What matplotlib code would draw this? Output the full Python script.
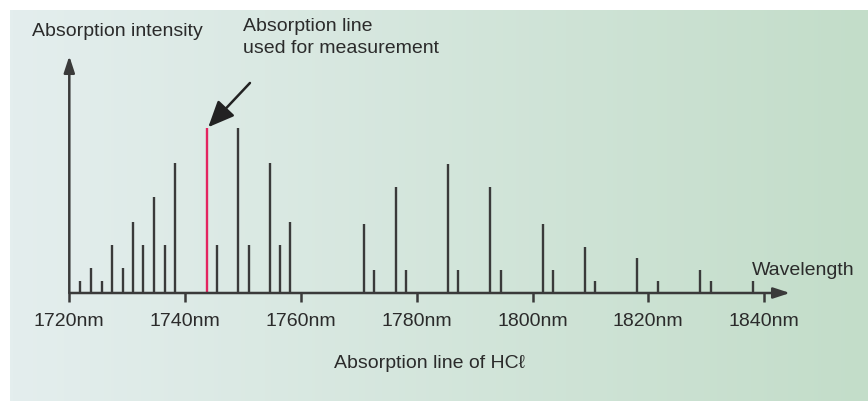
import numpy as np
import matplotlib
matplotlib.use("Agg")
import matplotlib.pyplot as plt
from matplotlib.colors import to_rgb

plt.rcParams['font.family'] = ['Liberation Sans', 'DejaVu Sans']

# HCl absorption lines (nm) and relative intensity
wavelengths = [1721.9, 1723.8, 1725.6, 1727.4, 1729.2, 1731.0, 1732.8, 1734.6,
               1736.5, 1738.3, 1745.5, 1749.2, 1751.0, 1754.6, 1756.4, 1758.2,
               1770.9, 1772.7, 1776.4, 1778.2, 1785.4, 1787.2, 1792.7, 1794.5,
               1801.8, 1803.5, 1809.0, 1810.8, 1818.1, 1821.7, 1828.9, 1830.8,
               1838.1]
intensity = [7, 15, 7, 29, 15, 43, 29, 58,
             29, 79, 29, 100, 29, 79, 29, 43,
             42, 14, 64, 14, 78, 14, 64, 14,
             42, 14, 28, 7, 21, 7, 14, 7,
             7]
# line used for measurement
meas_wl = 1743.7
meas_int = 100

tick_nm = [1720, 1740, 1760, 1780, 1800, 1820, 1840]
tick_labels = [f"{t}nm" for t in tick_nm]

W, H = 868, 401
INK = '#2b2b2b'
LINE = '#3a3a3a'
RED = '#e3245f'
FS = 14


def fx(px):
	return px / W


def fy(py):
	return 1 - py / H


fig = plt.figure(figsize=(W / 100, H / 100), dpi=100)
fig.patch.set_facecolor('white')

# background gradient panel
bg = fig.add_axes([fx(10), 0, 1 - fx(10), fy(10)])
c0, c1 = np.array(to_rgb('#e4eeee')), np.array(to_rgb('#c3ddc9'))
t = np.linspace(0, 1, 256)[None, :, None]
bg.imshow(c0 * (1 - t) + c1 * t, aspect='auto', extent=[0, 1, 0, 1])
bg.axis('off')

x_left, x_right = 69.3, 790
y_base, y_top = 293, 56
px_per_nm = 5.79
px_per_unit = 1.65

ax = fig.add_axes([fx(x_left), fy(y_base), (x_right - x_left) / W, (y_base - y_top) / H])
ax.set_xlim(1720, 1720 + (x_right - x_left) / px_per_nm)
ax.set_ylim(0, (y_base - y_top) / px_per_unit)
ax.patch.set_visible(False)
for s in ax.spines.values():
	s.set_visible(False)

ax.vlines(wavelengths, 0, intensity, colors=LINE, lw=1.7)
ax.vlines(meas_wl, 0, meas_int, colors=RED, lw=1.7)

arrow = dict(arrowstyle='-|>,head_length=0.55,head_width=0.18', lw=1.8,
	color=LINE, mutation_scale=18, shrinkA=0, shrinkB=0)
ax.annotate('', xy=(0, 1), xytext=(0, 0), xycoords='axes fraction', arrowprops=arrow)
ax.annotate('', xy=(1, 0), xytext=(0, 0), xycoords='axes fraction', arrowprops=arrow)

ax.set_xticks(tick_nm)
ax.set_xticklabels(tick_labels)
ax.set_yticks([])
ax.tick_params(axis='x', direction='out', length=6.5, width=1.8, color=LINE,
	pad=8, labelsize=FS, labelcolor=INK)
ax.set_xlabel('Absorption line of HCℓ', fontsize=FS, color=INK, labelpad=18)

# pointer to the measurement line
ax.annotate('', xy=(meas_wl + 0.3, meas_int + 0.5), xytext=(1751.2, 127.3),
	annotation_clip=False,
	arrowprops=dict(arrowstyle='-|>,head_length=0.8,head_width=0.35', lw=1.8,
		color='#222222', mutation_scale=20, shrinkA=0, shrinkB=0))

fig.text(fx(32), fy(36), 'Absorption intensity', fontsize=FS, color=INK, va='baseline')
fig.text(fx(243), fy(18), 'Absorption line\nused for measurement', fontsize=FS,
	color=INK, va='top', linespacing=1.4)
fig.text(fx(752), fy(275), 'Wavelength', fontsize=FS, color=INK, va='baseline')

fig.savefig('out.png', dpi=100)
